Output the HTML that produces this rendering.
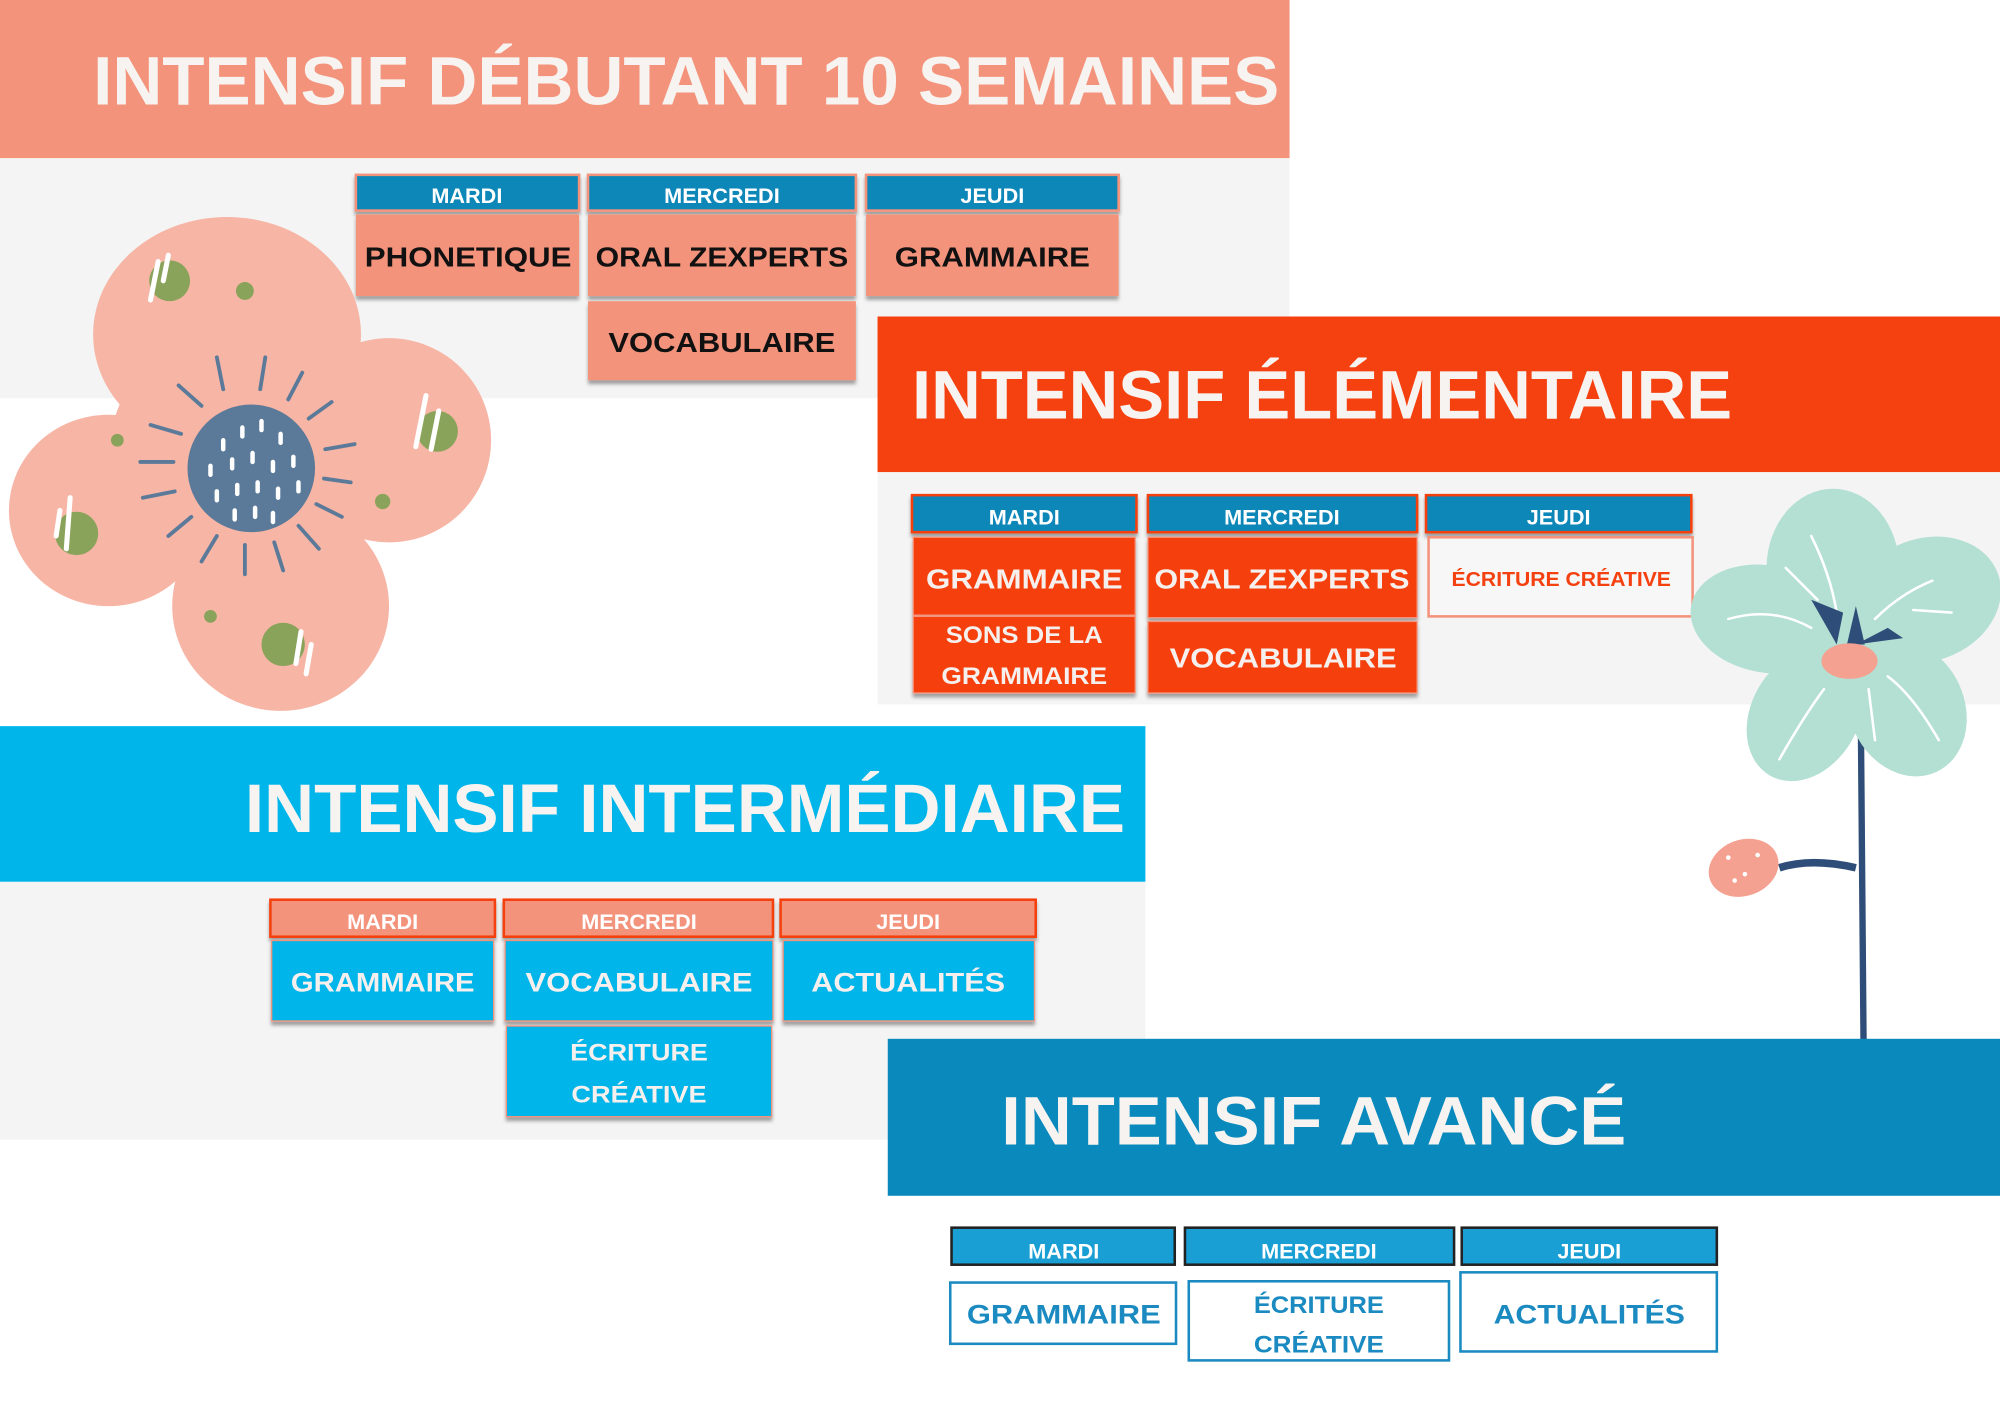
<!DOCTYPE html>
<html><head><meta charset="utf-8"><style>
html,body{margin:0;padding:0;background:#fff;}
svg{display:block;}
text{font-family:"Liberation Sans",Arial,sans-serif;font-weight:bold;}
</style></head><body>
<svg width="2000" height="1414" viewBox="0 0 1568 1108" preserveAspectRatio="none" xmlns="http://www.w3.org/2000/svg">
<defs>
<filter id="sh" x="-10%" y="-10%" width="120%" height="130%"><feDropShadow dx="0" dy="3" stdDeviation="1.5" flood-color="#000" flood-opacity="0.35"/></filter>
</defs>
<rect width="1568" height="1108" fill="#fff"/>
<!-- Panel 1 -->
<rect x="0" y="0" width="1011" height="124" fill="#f4937b"/>
<rect x="0" y="124" width="1011" height="188" fill="#f4f4f4"/>
<text x="73" y="82" font-size="54" fill="#f7f3f0" textLength="930" lengthAdjust="spacingAndGlyphs">INTENSIF DÉBUTANT 10 SEMAINES</text>
<g filter="url(#sh)">
<rect x="279" y="137" width="175" height="28" fill="#0a86b8" stroke="#f4937b" stroke-width="2"/>
<rect x="461" y="137" width="210" height="28" fill="#0a86b8" stroke="#f4937b" stroke-width="2"/>
<rect x="679" y="137" width="198" height="28" fill="#0a86b8" stroke="#f4937b" stroke-width="2"/>
<rect x="279" y="168" width="175" height="64" fill="#f4937b"/>
<rect x="461" y="168" width="210" height="64" fill="#f4937b"/>
<rect x="679" y="168" width="198" height="64" fill="#f4937b"/>
<rect x="461" y="236" width="210" height="62" fill="#f4937b"/>
</g>
<g fill="#fff" font-size="17" text-anchor="middle">
<text x="366" y="159">MARDI</text><text x="566" y="159">MERCREDI</text><text x="778" y="159">JEUDI</text>
</g>
<g fill="#111" font-size="22" text-anchor="middle">
<text x="367" y="209" textLength="162" lengthAdjust="spacingAndGlyphs">PHONETIQUE</text>
<text x="566" y="209" textLength="198" lengthAdjust="spacingAndGlyphs">ORAL ZEXPERTS</text>
<text x="778" y="209" textLength="153" lengthAdjust="spacingAndGlyphs">GRAMMAIRE</text>
<text x="566" y="276" textLength="178" lengthAdjust="spacingAndGlyphs">VOCABULAIRE</text>
</g>
<!-- Pink flower -->
<g fill="#f7b5a5">
<ellipse cx="178" cy="262" rx="105" ry="92"/>
<ellipse cx="305" cy="345" rx="80" ry="80"/>
<ellipse cx="85" cy="400" rx="78" ry="75"/>
<ellipse cx="220" cy="475" rx="85" ry="82"/>
<circle cx="195" cy="360" r="110"/>
</g>
<g fill="#8aa35a">
<circle cx="133" cy="220" r="16"/><circle cx="192" cy="228" r="7"/>
<circle cx="343" cy="338" r="16"/><circle cx="92" cy="345" r="5"/>
<circle cx="60" cy="418" r="17"/><circle cx="300" cy="393" r="6"/>
<circle cx="222" cy="505" r="17"/><circle cx="165" cy="483" r="5"/>
</g>
<g stroke="#fff" stroke-width="4" stroke-linecap="round">
<line x1="124" y1="205" x2="118" y2="235"/><line x1="132" y1="200" x2="128" y2="220"/>
<line x1="334" y1="310" x2="326" y2="350"/><line x1="344" y1="322" x2="338" y2="352"/>
<line x1="47" y1="400" x2="44" y2="420"/><line x1="55" y1="390" x2="52" y2="430"/>
<line x1="236" y1="495" x2="232" y2="520"/><line x1="244" y1="505" x2="240" y2="528"/>
</g>
<circle cx="197" cy="367" r="50" fill="#5b7a9a"/>
<g stroke="#fff" stroke-width="3.5" stroke-linecap="round">
<line x1="175" y1="345" x2="175" y2="352"/><line x1="190" y1="335" x2="190" y2="342"/><line x1="205" y1="330" x2="205" y2="337"/><line x1="220" y1="340" x2="220" y2="347"/>
<line x1="165" y1="365" x2="165" y2="372"/><line x1="182" y1="360" x2="182" y2="367"/><line x1="198" y1="355" x2="198" y2="362"/><line x1="214" y1="362" x2="214" y2="369"/><line x1="230" y1="358" x2="230" y2="365"/>
<line x1="170" y1="385" x2="170" y2="392"/><line x1="186" y1="380" x2="186" y2="387"/><line x1="202" y1="378" x2="202" y2="385"/><line x1="218" y1="383" x2="218" y2="390"/><line x1="234" y1="378" x2="234" y2="385"/>
<line x1="184" y1="400" x2="184" y2="407"/><line x1="200" y1="398" x2="200" y2="405"/><line x1="214" y1="402" x2="214" y2="409"/>
</g>
<g stroke="#5b7a9a" stroke-width="3" stroke-linecap="round">
<line x1="170" y1="280" x2="175" y2="305"/><line x1="208" y1="280" x2="204" y2="305"/><line x1="237" y1="292" x2="226" y2="313"/>
<line x1="260" y1="315" x2="242" y2="328"/><line x1="278" y1="348" x2="255" y2="352"/><line x1="275" y1="378" x2="254" y2="375"/>
<line x1="268" y1="405" x2="248" y2="395"/><line x1="250" y1="430" x2="234" y2="412"/><line x1="222" y1="447" x2="215" y2="425"/>
<line x1="192" y1="450" x2="192" y2="427"/><line x1="158" y1="440" x2="170" y2="420"/><line x1="132" y1="420" x2="150" y2="405"/>
<line x1="112" y1="390" x2="137" y2="385"/><line x1="110" y1="362" x2="136" y2="362"/><line x1="118" y1="333" x2="142" y2="340"/>
<line x1="140" y1="302" x2="158" y2="318"/>
</g>
<!-- Panel 2 -->
<rect x="688" y="248" width="880" height="122" fill="#f5400f"/>
<rect x="688" y="370" width="880" height="182" fill="#f4f4f4"/>
<text x="715" y="328" font-size="54" fill="#f7f3f0" textLength="643" lengthAdjust="spacingAndGlyphs">INTENSIF ÉLÉMENTAIRE</text>
<g filter="url(#sh)">
<rect x="715" y="388" width="176" height="29" fill="#0a86b8" stroke="#f5400f" stroke-width="2"/>
<rect x="900" y="388" width="211" height="29" fill="#0a86b8" stroke="#f5400f" stroke-width="2"/>
<rect x="1118" y="388" width="208" height="29" fill="#0a86b8" stroke="#f5400f" stroke-width="2"/>
<rect x="716" y="421" width="174" height="61" fill="#f5400f" stroke="#f4937b" stroke-width="1"/>
<rect x="716" y="483" width="174" height="60" fill="#f5400f" stroke="#f4937b" stroke-width="1"/>
<rect x="900" y="421" width="211" height="63" fill="#f5400f" stroke="#f4937b" stroke-width="1"/>
<rect x="900" y="487" width="211" height="56" fill="#f5400f" stroke="#f4937b" stroke-width="1"/>
</g>
<rect x="1120" y="421" width="207" height="62" fill="#f7f7f7" stroke="#f4937b" stroke-width="2"/>
<g fill="#fff" font-size="17" text-anchor="middle">
<text x="803" y="411">MARDI</text><text x="1005" y="411">MERCREDI</text><text x="1222" y="411">JEUDI</text>
</g>
<g fill="#f5f0ee" font-size="22" text-anchor="middle">
<text x="803" y="461" textLength="154" lengthAdjust="spacingAndGlyphs">GRAMMAIRE</text>
<text x="1005" y="461" textLength="200" lengthAdjust="spacingAndGlyphs">ORAL ZEXPERTS</text>
<text x="1006" y="523" textLength="178" lengthAdjust="spacingAndGlyphs">VOCABULAIRE</text>
<text x="803" y="504" font-size="19" textLength="123" lengthAdjust="spacingAndGlyphs">SONS DE LA</text>
<text x="803" y="536" font-size="19" textLength="130" lengthAdjust="spacingAndGlyphs">GRAMMAIRE</text>
</g>
<text x="1224" y="459" font-size="16" fill="#f5400f" text-anchor="middle" textLength="172" lengthAdjust="spacingAndGlyphs">ÉCRITURE CRÉATIVE</text>
<!-- Panel 3 -->
<rect x="0" y="569" width="898" height="122" fill="#00b5e9"/>
<rect x="0" y="691" width="898" height="202" fill="#f4f4f4"/>
<text x="192" y="652" font-size="54" fill="#f7f3f0" textLength="690" lengthAdjust="spacingAndGlyphs">INTENSIF INTERMÉDIAIRE</text>
<g filter="url(#sh)">
<rect x="212" y="705" width="176" height="29" fill="#f4937b" stroke="#f5400f" stroke-width="2"/>
<rect x="395" y="705" width="211" height="29" fill="#f4937b" stroke="#f5400f" stroke-width="2"/>
<rect x="612" y="705" width="200" height="29" fill="#f4937b" stroke="#f5400f" stroke-width="2"/>
<rect x="213" y="737" width="174" height="63" fill="#00b5e9" stroke="#f4937b" stroke-width="1"/>
<rect x="396" y="737" width="210" height="63" fill="#00b5e9" stroke="#f4937b" stroke-width="1"/>
<rect x="614" y="737" width="197" height="63" fill="#00b5e9" stroke="#f4937b" stroke-width="1"/>
<rect x="397" y="804" width="208" height="71" fill="#00b5e9" stroke="#f4937b" stroke-width="1"/>
</g>
<g fill="#fff" font-size="17" text-anchor="middle">
<text x="300" y="728">MARDI</text><text x="501" y="728">MERCREDI</text><text x="712" y="728">JEUDI</text>
</g>
<g fill="#f5f0ee" font-size="21" text-anchor="middle">
<text x="300" y="777" textLength="144" lengthAdjust="spacingAndGlyphs">GRAMMAIRE</text>
<text x="501" y="777" textLength="178" lengthAdjust="spacingAndGlyphs">VOCABULAIRE</text>
<text x="712" y="777" textLength="152" lengthAdjust="spacingAndGlyphs">ACTUALITÉS</text>
<text x="501" y="831" font-size="19" textLength="108" lengthAdjust="spacingAndGlyphs">ÉCRITURE</text>
<text x="501" y="864" font-size="19" textLength="106" lengthAdjust="spacingAndGlyphs">CRÉATIVE</text>
</g>
<!-- Mint flower -->
<path d="M1459 575 L1461 815" stroke="#2e4d78" stroke-width="5" fill="none"/>
<path d="M1455 680 Q1420 672 1395 680" stroke="#2e4d78" stroke-width="6" fill="none"/>
<ellipse cx="1367" cy="680" rx="28" ry="22" fill="#f5a191" transform="rotate(-20 1367 680)"/>
<g fill="#fff"><circle cx="1355" cy="672" r="1.8"/><circle cx="1368" cy="685" r="1.8"/><circle cx="1378" cy="670" r="1.8"/><circle cx="1360" cy="690" r="1.8"/></g>
<g fill="#b3e0d2">
<ellipse cx="1437" cy="445" rx="52" ry="62"/>
<ellipse cx="1510" cy="470" rx="60" ry="48" transform="rotate(-20 1510 470)"/>
<ellipse cx="1385" cy="485" rx="60" ry="42" transform="rotate(10 1385 485)"/>
<ellipse cx="1415" cy="560" rx="42" ry="55" transform="rotate(30 1415 560)"/>
<ellipse cx="1495" cy="555" rx="45" ry="55" transform="rotate(-25 1495 555)"/>
<circle cx="1450" cy="515" r="40"/>
</g>
<g stroke="#fff" stroke-width="2" fill="none" stroke-linecap="round">
<path d="M1420 420 Q1435 450 1440 480"/><path d="M1400 445 L1425 470"/><path d="M1355 485 Q1390 475 1420 492"/>
<path d="M1515 455 Q1490 465 1470 485"/><path d="M1530 480 L1500 478"/><path d="M1395 595 Q1415 560 1430 540"/>
<path d="M1520 580 Q1500 545 1480 530"/><path d="M1465 540 L1470 580"/>
</g>
<path d="M1420 470 L1440 505 L1445 480 Z" fill="#2e4d78"/>
<path d="M1448 505 L1455 475 L1462 505 Z" fill="#2e4d78"/>
<path d="M1455 505 L1480 492 L1492 500 Z" fill="#2e4d78"/>
<ellipse cx="1450" cy="518" rx="22" ry="14" fill="#f5a191"/>
<!-- Panel 4 -->
<rect x="696" y="814" width="872" height="123" fill="#0a89bc"/>
<text x="785" y="897" font-size="54" fill="#f7f3f0" textLength="490" lengthAdjust="spacingAndGlyphs">INTENSIF AVANCÉ</text>
<g>
<rect x="746" y="962" width="175" height="29" fill="#1a9fd5" stroke="#222" stroke-width="2"/>
<rect x="929" y="962" width="211" height="29" fill="#1a9fd5" stroke="#222" stroke-width="2"/>
<rect x="1146" y="962" width="200" height="29" fill="#1a9fd5" stroke="#222" stroke-width="2"/>
<rect x="745" y="1005" width="177" height="48" fill="#fff" stroke="#1a8ac0" stroke-width="2"/>
<rect x="932" y="1004" width="204" height="62" fill="#fff" stroke="#1a8ac0" stroke-width="2"/>
<rect x="1145" y="997" width="201" height="62" fill="#fff" stroke="#1a8ac0" stroke-width="2"/>
</g>
<g fill="#fff" font-size="17" text-anchor="middle">
<text x="834" y="986">MARDI</text><text x="1034" y="986">MERCREDI</text><text x="1246" y="986">JEUDI</text>
</g>
<g fill="#1a8ac0" font-size="21" text-anchor="middle">
<text x="834" y="1037" textLength="152" lengthAdjust="spacingAndGlyphs">GRAMMAIRE</text>
<text x="1246" y="1037" textLength="150" lengthAdjust="spacingAndGlyphs">ACTUALITÉS</text>
<text x="1034" y="1029" font-size="19" textLength="102" lengthAdjust="spacingAndGlyphs">ÉCRITURE</text>
<text x="1034" y="1060" font-size="19" textLength="102" lengthAdjust="spacingAndGlyphs">CRÉATIVE</text>
</g>
</svg>
</body></html>
